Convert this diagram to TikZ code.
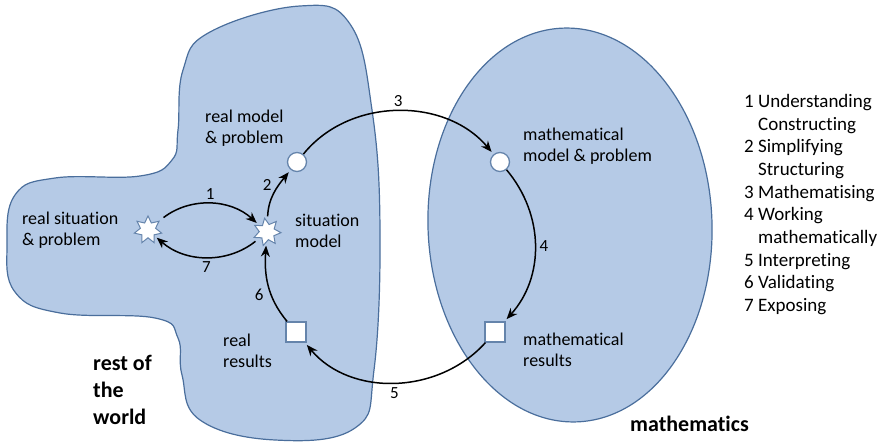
\documentclass[tikz,border=0pt]{standalone}
\usepackage{fontspec}
\setmainfont{Carlito}[Ligatures=NoCommon]
\usepackage{tikz}
\usetikzlibrary{arrows.meta,shapes.geometric}
\definecolor{worldblue}{HTML}{B5CAE6}
\definecolor{edgeblue}{HTML}{4A6E9C}

\begin{document}
\begin{tikzpicture}[x=1pt,y=1pt,
  region/.style={fill=worldblue,draw=edgeblue,line width=1.2pt},
  arr/.style={-{Stealth[length=11pt,width=9pt]},line width=1.5pt},
  num/.style={font=\fontsize{17pt}{19pt}\selectfont,inner sep=4pt},
  lbl/.style={font=\fontsize{18pt}{21pt}\selectfont,align=left,anchor=west,inner sep=0pt},
  big/.style={font=\bfseries\fontsize{22pt}{27pt}\selectfont,align=left,anchor=west,inner sep=0pt},
  starnode/.style={star,star points=7,star point ratio=1.8,minimum size=28pt,inner sep=0pt,fill=white,draw=edgeblue!85,line width=1pt},
  dotnode/.style={circle,minimum size=19pt,inner sep=0pt,fill=white,draw=edgeblue!85,line width=1.3pt},
  boxnode/.style={rectangle,minimum size=20pt,inner sep=0pt,fill=white,draw=edgeblue!85,line width=1.3pt}]
  \useasboundingbox (0,0) rectangle (878,-446);
  % the two worlds
  \draw[region] plot[smooth cycle,tension=0.7] coordinates {
    (178,-130) (183,-70) (210,-32) (300,-6) (350,-24) (372,-110) (380,-230)
    (374,-370) (355,-428) (275,-440) (200,-420) (182,-375) (178,-338)
    (155,-318) (60,-313) (15,-292) (7,-245) (15,-195) (55,-178) (140,-176) (172,-160)};
  \draw[region,rotate around={2:(570,-225)}] (570,-225) ellipse[x radius=142,y radius=197];
  % stations of the cycle
  \node[starnode] (realsit) at (148,-230) {};
  \node[starnode,rotate=10] (sitmod) at (267,-232) {};
  \node[dotnode] (realmod) at (297,-162) {};
  \node[boxnode] (realres) at (296,-332) {};
  \node[dotnode] (mathmod) at (500,-162) {};
  \node[boxnode] (mathres) at (495,-332) {};
  % steps
  \draw[arr,shorten <=5pt,shorten >=3pt] (realsit) to[bend left=40] node[num,auto]{1} (sitmod);
  \draw[arr,shorten <=5pt,shorten >=3pt] (sitmod) to[bend left=40] node[num,auto]{7} (realsit);
  \draw[arr,shorten <=5pt,shorten >=3pt] (sitmod) to[out=84,in=231] node[num,auto,inner sep=2pt]{2} (realmod);
  \draw[arr,shorten >=3pt] (realmod) to[out=51,in=130] node[num,auto]{3} (mathmod);
  \draw[arr,shorten >=3pt] (mathmod) to[out=-50,in=48] node[num,auto]{4} (mathres);
  \draw[arr,shorten >=3pt] (mathres) to[out=-132,in=-50] node[num,auto]{5} (realres);
  \draw[arr,shorten >=3pt] (realres) to[out=130,in=-96] node[num,auto]{6} (sitmod);
  % labels
  \node[lbl] (tsit) at (22,-230) {real situation\\\& problem};
  \node[lbl] (tmod) at (205,-128) {real model\\\& problem};
  \node[lbl] (tsitmod) at (295,-231) {situation\\model};
  \node[lbl] (tres) at (223,-351) {real\\results};
  \node[lbl] (tmmod) at (523,-146) {mathematical\\model \& problem};
  \node[lbl] (tmres) at (523,-350) {mathematical\\results};
  \node[big] (trest) at (93,-390) {rest of\\the\\world};
  \node[big] (tmath) at (630,-424) {mathematics};
  \node[font=\fontsize{19pt}{22.7pt}\selectfont,align=left,anchor=north west,inner sep=0pt] (legend) at (744,-94) {%
    1 Understanding\\\hphantom{1\ }Constructing\\2 Simplifying\\\hphantom{1\ }Structuring\\3 Mathematising\\
    4 Working\\\hphantom{1\ }mathematically\\5 Interpreting\\6 Validating\\7 Exposing};
\end{tikzpicture}
\end{document}
